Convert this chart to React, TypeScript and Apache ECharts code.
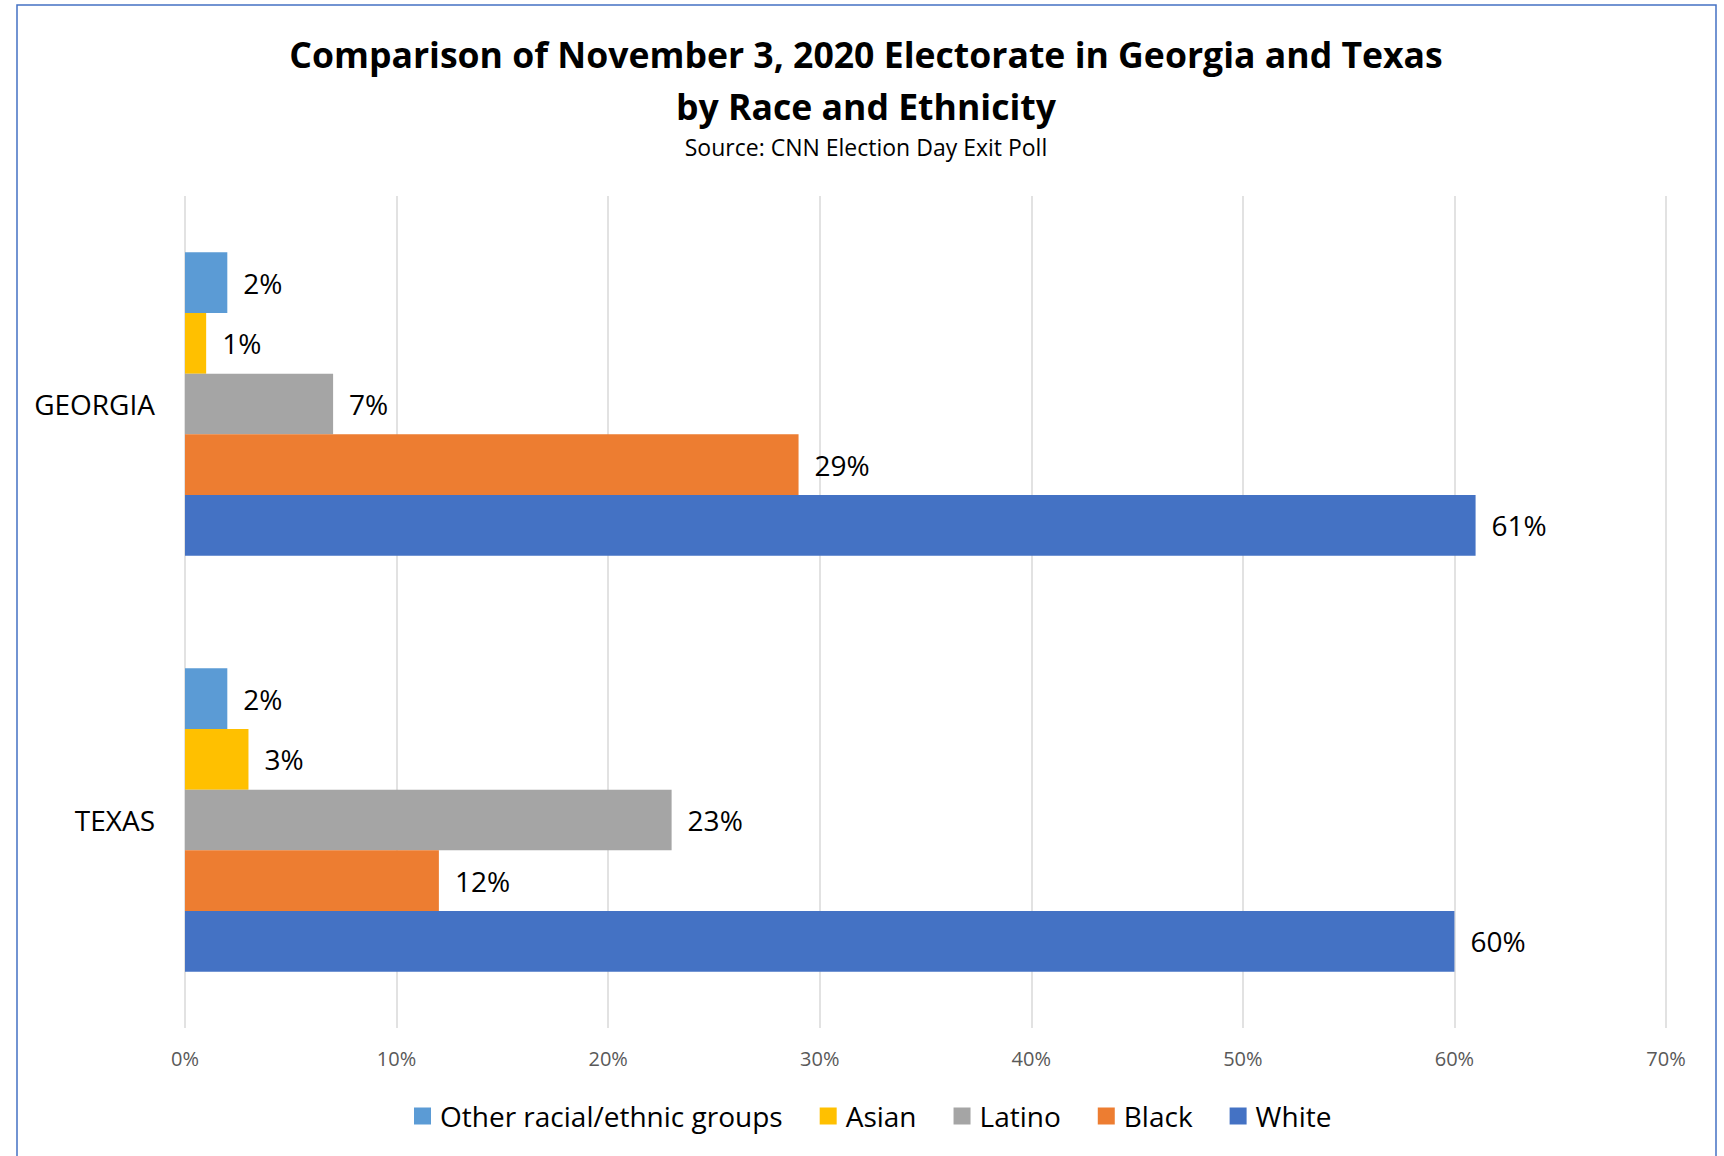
import React, { useEffect, useRef } from "react";
import * as echarts from "echarts";

const categories = ["GEORGIA", "TEXAS"];
const seriesNames = ["Other racial/ethnic groups", "Asian", "Latino", "Black", "White"];
const otherValues = [2, 2];
const asianValues = [1, 3];
const latinoValues = [7, 23];
const blackValues = [29, 12];
const whiteValues = [61, 60];
const colors = ["#5B9BD5", "#FFC000", "#A5A5A5", "#ED7D31", "#4472C4"];
const titleLine1 = "Comparison of November 3, 2020 Electorate in Georgia and Texas";
const titleLine2 = "by Race and Ethnicity";
const subtitle = "Source: CNN Election Day Exit Poll";

const FONT = "'Open Sans', 'Noto Sans', sans-serif";

export default function App() {
  const ref = useRef<HTMLDivElement>(null);
  useEffect(() => {
    if (!ref.current) return;
    const chart = echarts.init(ref.current, undefined, { renderer: "svg" });
    const allValues = [otherValues, asianValues, latinoValues, blackValues, whiteValues];
    chart.setOption({
      animation: false,
      backgroundColor: "#ffffff",
      textStyle: { fontFamily: FONT },
      graphic: [
        {
          type: "rect",
          shape: { x: 17, y: 5, width: 1699, height: 1200 },
          style: { fill: "none", stroke: "#4472C4", lineWidth: 1.5 },
          silent: true,
        },
        {
          type: "text",
          x: 866,
          y: 54,
          style: {
            text: titleLine1,
            fontFamily: FONT,
            fontWeight: "bold",
            fontSize: 35.6,
            fill: "#000",
            align: "center",
            verticalAlign: "middle",
          },
        },
        {
          type: "text",
          x: 866,
          y: 106,
          style: {
            text: titleLine2,
            fontFamily: FONT,
            fontWeight: "bold",
            fontSize: 35.6,
            fill: "#000",
            align: "center",
            verticalAlign: "middle",
          },
        },
        {
          type: "text",
          x: 866,
          y: 147,
          style: {
            text: subtitle,
            fontFamily: FONT,
            fontSize: 23,
            fill: "#000",
            align: "center",
            verticalAlign: "middle",
          },
        },
      ],
      legend: {
        data: seriesNames,
        left: 409,
        top: 1097,
        icon: "rect",
        itemWidth: 17,
        itemHeight: 17,
        itemGap: 37,
        textStyle: { fontFamily: FONT, fontSize: 28, color: "#000", padding: [0, 0, 0, 4] },
      },
      grid: { left: 185, right: 58, top: 196, bottom: 128, containLabel: false },
      xAxis: {
        type: "value",
        min: 0,
        max: 70,
        interval: 10,
        axisLine: { show: false },
        axisTick: { show: false },
        splitLine: { show: true, lineStyle: { color: "#D9D9D9", width: 1.5 } },
        axisLabel: {
          formatter: (v: number) => v + "%",
          color: "#595959",
          fontFamily: FONT,
          fontSize: 20,
          margin: 20,
        },
      },
      yAxis: {
        type: "category",
        data: categories,
        inverse: true,
        axisLine: { show: false },
        axisTick: { show: false },
        axisLabel: { color: "#000", fontFamily: FONT, fontSize: 28, margin: 30 },
      },
      series: seriesNames.map((name, i) => ({
        name,
        type: "bar",
        data: allValues[i],
        barGap: "0%",
        barCategoryGap: "27%",
        itemStyle: { color: colors[i] },
        label: {
          show: true,
          position: "right",
          distance: 16,
          formatter: (p: any) => p.value + "%",
          color: "#000",
          fontFamily: FONT,
          fontSize: 28,
        },
      })),
    });
    return () => chart.dispose();
  }, []);
  return (
    <div
      ref={ref}
      style={{ position: "fixed", left: 0, top: 0, width: 1724, height: 1156 }}
    />
  );
}
